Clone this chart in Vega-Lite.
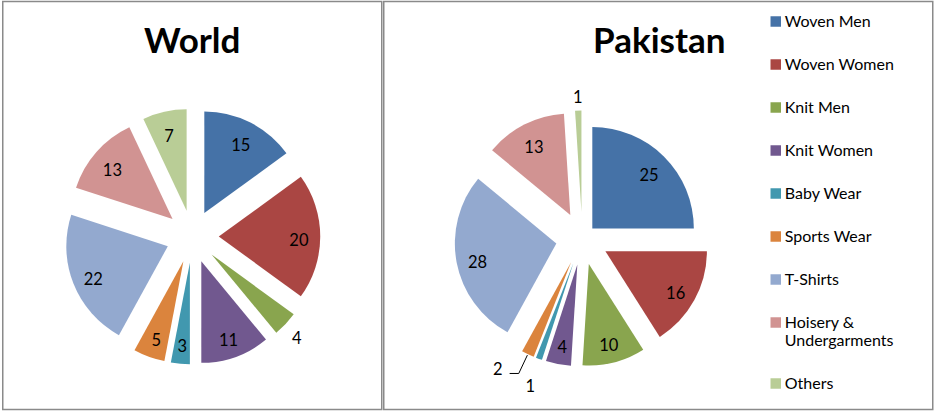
{
  "$schema": "https://vega.github.io/schema/vega-lite/v6.json",
  "background": "white",
  "padding": {"left": 1.75, "top": 0.5, "right": 0, "bottom": 0},
  "spacing": 0,
  "config": {
    "view": {"stroke": "#8a8a8a", "strokeWidth": 1.5},
    "font": "Lato"
  },
  "data": {
    "values": [
      {"country": "World", "category": "Woven Men", "value": 15},
      {"country": "World", "category": "Woven Women", "value": 20},
      {"country": "World", "category": "Knit Men", "value": 4},
      {"country": "World", "category": "Knit Women", "value": 11},
      {"country": "World", "category": "Baby Wear", "value": 3},
      {"country": "World", "category": "Sports Wear", "value": 5},
      {"country": "World", "category": "T-Shirts", "value": 22},
      {"country": "World", "category": "Hoisery & Undergarments", "value": 13},
      {"country": "World", "category": "Others", "value": 7},
      {"country": "Pakistan", "category": "Woven Men", "value": 25},
      {"country": "Pakistan", "category": "Woven Women", "value": 16},
      {"country": "Pakistan", "category": "Knit Men", "value": 10},
      {"country": "Pakistan", "category": "Knit Women", "value": 4},
      {"country": "Pakistan", "category": "Baby Wear", "value": 1},
      {"country": "Pakistan", "category": "Sports Wear", "value": 2},
      {"country": "Pakistan", "category": "T-Shirts", "value": 28},
      {"country": "Pakistan", "category": "Hoisery & Undergarments", "value": 13},
      {"country": "Pakistan", "category": "Others", "value": 1}
    ]
  },
  "transform": [
    {"calculate": "indexof(['Woven Men','Woven Women','Knit Men','Knit Women','Baby Wear','Sports Wear','T-Shirts','Hoisery & Undergarments','Others'], datum.category)", "as": "idx"},
    {"window": [{"op": "sum", "field": "value", "as": "cum"}], "groupby": ["country"], "sort": [{"field": "idx", "order": "ascending"}], "frame": [null, 0]},
    {"calculate": "datum.cum - datum.value", "as": "start"},
    {"calculate": "(datum.cum - datum.value / 2) * PI / 50", "as": "ang"},
    {"calculate": "datum.country == 'Pakistan' && datum.category == 'Woven Men' ? 0.14 : 0.26", "as": "ex"},
    {"calculate": "datum.ex * sin(datum.ang)", "as": "cx"},
    {"calculate": "datum.ex * cos(datum.ang)", "as": "cy"},
    {"calculate": "(datum.country == 'World' && datum.category == 'Knit Men') ? 1.15 : (datum.country == 'Pakistan' && datum.category == 'Others') ? 1.17 : (datum.country == 'Pakistan' && (datum.category == 'Baby Wear' || datum.category == 'Sports Wear')) ? 1.25 : 0.79", "as": "lr"},
    {"calculate": "datum.ang + (datum.country == 'Pakistan' && datum.category == 'Sports Wear' ? 0.176 : 0)", "as": "la"},
    {"calculate": "datum.cx + datum.lr * sin(datum.la)", "as": "lx"},
    {"calculate": "datum.cy + datum.lr * cos(datum.la)", "as": "ly"}
  ],
  "resolve": {"scale": {"color": "independent"}},
  "hconcat": [
    {
      "width": 379,
      "height": 408,
      "title": {"text": "World", "font": "Lato", "fontSize": 35, "fontWeight": "bold", "color": "#000", "frame": "group", "anchor": "middle", "baseline": "alphabetic", "offset": -86.4},
      "transform": [{"filter": "datum.country == 'World'"}],
      "layer": [
        {
          "mark": {"type": "arc", "outerRadius": 101.5},
          "encoding": {
            "x": {"field": "cx", "type": "quantitative", "stack": null, "axis": null, "scale": {"domain": [-1.868, 1.866], "nice": false, "zero": false}},
            "y": {"field": "cy", "type": "quantitative", "stack": null, "axis": null, "scale": {"domain": [-1.704, 2.315], "nice": false, "zero": false}},
            "theta": {"field": "start", "type": "quantitative", "stack": null, "scale": {"domain": [0, 100]}},
            "theta2": {"field": "cum"},
            "color": {"field": "category", "type": "nominal", "legend": null,
              "scale": {"domain": ["Woven Men", "Woven Women", "Knit Men", "Knit Women", "Baby Wear", "Sports Wear", "T-Shirts", "Hoisery & Undergarments", "Others"],
                        "range": ["#4572A7", "#AA4643", "#89A54E", "#71588F", "#4198AF", "#DB843D", "#93A9CF", "#D19392", "#B9CD96"]}}
          }
        },
        {
          "mark": {"type": "text", "font": "Lato", "fontSize": 16.5, "color": "#000", "baseline": "middle", "align": "center", "dy": 4.5},
          "encoding": {
            "x": {"field": "lx", "type": "quantitative", "axis": null, "scale": {"domain": [-1.868, 1.866], "nice": false, "zero": false}},
            "y": {"field": "ly", "type": "quantitative", "axis": null, "scale": {"domain": [-1.704, 2.315], "nice": false, "zero": false}},
            "text": {"field": "value", "type": "quantitative"}
          }
        }
      ]
    },
    {
      "width": 549,
      "height": 408,
      "title": {"text": "Pakistan", "font": "Lato", "fontSize": 35, "fontWeight": "bold", "color": "#000", "frame": "group", "anchor": "middle", "baseline": "alphabetic", "offset": -86.4, "dx": 1},
      "transform": [{"filter": "datum.country == 'Pakistan'"}],
      "layer": [
        {
          "mark": {"type": "arc", "outerRadius": 101.5},
          "encoding": {
            "x": {"field": "cx", "type": "quantitative", "stack": null, "axis": null, "scale": {"domain": [-1.956, 3.453], "nice": false, "zero": false}},
            "y": {"field": "cy", "type": "quantitative", "stack": null, "axis": null, "scale": {"domain": [-1.685, 2.335], "nice": false, "zero": false}},
            "theta": {"field": "start", "type": "quantitative", "stack": null, "scale": {"domain": [0, 100]}},
            "theta2": {"field": "cum"},
            "color": {"field": "category", "type": "nominal",
              "scale": {"domain": ["Woven Men", "Woven Women", "Knit Men", "Knit Women", "Baby Wear", "Sports Wear", "T-Shirts", "Hoisery & Undergarments", "Others"],
                        "range": ["#4572A7", "#AA4643", "#89A54E", "#71588F", "#4198AF", "#DB843D", "#93A9CF", "#D19392", "#B9CD96"]},
              "legend": {"orient": "none", "legendX": 384, "legendY": 12, "title": null, "symbolType": "square", "symbolSize": 110, "symbolStrokeWidth": 0, "symbolOpacity": 1,
                "labelFont": "Lato", "labelFontSize": 16, "labelColor": "#000", "labelOffset": 1, "rowPadding": 27, "labelLimit": 0,
                "labelExpr": "datum.label == 'Hoisery & Undergarments' ? ['Hoisery &', 'Undergarments'] : datum.label"}}
          }
        },
        {
          "transform": [{"filter": "datum.category == 'Sports Wear'"},
            {"calculate": "datum.cx + 1.01 * sin(datum.ang)", "as": "ax"},
            {"calculate": "datum.cy + 1.01 * cos(datum.ang)", "as": "ay"},
            {"calculate": "datum.cx + 1.21 * sin(datum.ang)", "as": "bx"},
            {"calculate": "datum.cy + 1.21 * cos(datum.ang)", "as": "by"},
            {"calculate": "datum.bx - 0.09", "as": "hx"}],
          "layer": [
            {
              "mark": {"type": "rule", "color": "#000", "strokeWidth": 1},
              "encoding": {
                "x": {"field": "ax", "type": "quantitative", "axis": null, "scale": {"domain": [-1.956, 3.453], "nice": false, "zero": false}},
                "y": {"field": "ay", "type": "quantitative", "axis": null, "scale": {"domain": [-1.685, 2.335], "nice": false, "zero": false}},
                "x2": {"field": "bx"},
                "y2": {"field": "by"}
              }
            },
            {
              "mark": {"type": "rule", "color": "#000", "strokeWidth": 1},
              "encoding": {
                "x": {"field": "bx", "type": "quantitative", "axis": null, "scale": {"domain": [-1.956, 3.453], "nice": false, "zero": false}},
                "y": {"field": "by", "type": "quantitative", "axis": null, "scale": {"domain": [-1.685, 2.335], "nice": false, "zero": false}},
                "x2": {"field": "hx"}
              }
            }
          ]
        },
        {
          "mark": {"type": "text", "font": "Lato", "fontSize": 16.5, "color": "#000", "baseline": "middle", "align": "center", "dy": 4.5},
          "encoding": {
            "x": {"field": "lx", "type": "quantitative", "axis": null, "scale": {"domain": [-1.956, 3.453], "nice": false, "zero": false}},
            "y": {"field": "ly", "type": "quantitative", "axis": null, "scale": {"domain": [-1.685, 2.335], "nice": false, "zero": false}},
            "text": {"field": "value", "type": "quantitative"}
          }
        }
      ]
    }
  ]
}
